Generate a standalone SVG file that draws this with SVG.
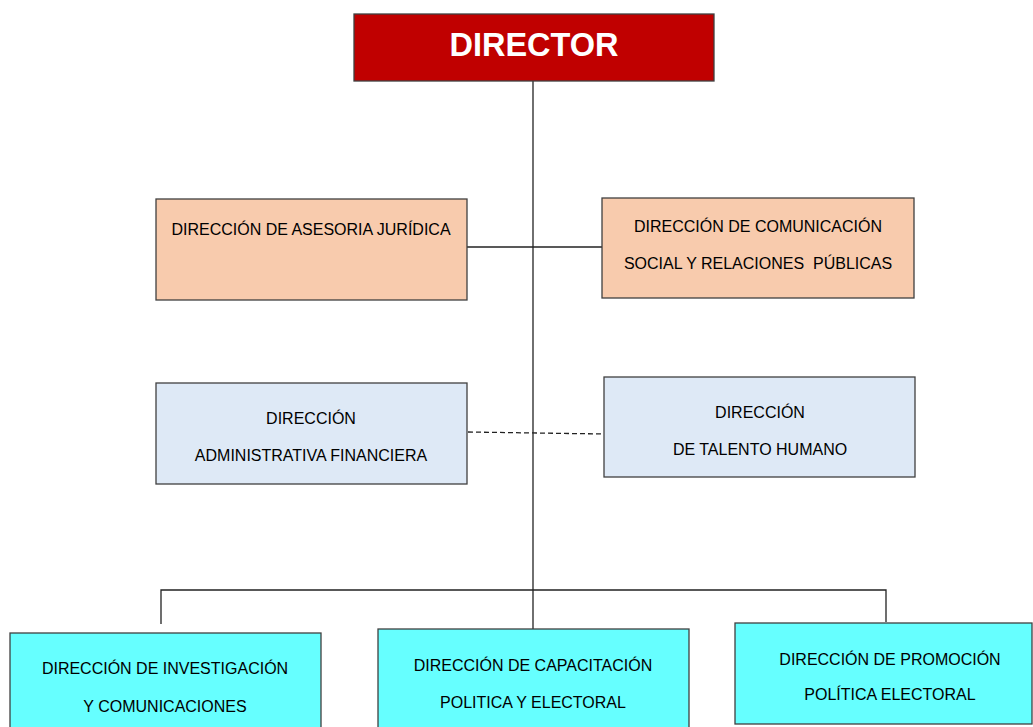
<svg xmlns="http://www.w3.org/2000/svg" width="1033" height="727" viewBox="0 0 1033 727">
<style>
.box{stroke:#404040;stroke-width:1.3}
.dir{fill:#C00000}
.peach{fill:#F8CBAD}
.blue{fill:#DEE9F6}
.cyan{fill:#66FFFF}
.t{font-family:"Liberation Sans",Arial,sans-serif;font-size:16px;fill:#000;text-anchor:middle}
.ln{stroke:#222;stroke-width:1.3;fill:none}
</style>
<rect width="1033" height="727" fill="#fff"/>
<g id="connectors">
<line class="ln" x1="533" y1="81" x2="533" y2="629"/>
<line class="ln" x1="467" y1="247" x2="602" y2="247"/>
<line class="ln" x1="468" y1="432" x2="604" y2="434" stroke-dasharray="5,3"/>
<polyline class="ln" points="161,624 161,590 886,590 886,622"/>
</g>
<g id="director">
<rect class="box dir" x="354" y="14" width="360" height="67"/>
<text x="534" y="56" font-family="Liberation Sans,Arial,sans-serif" font-weight="bold" font-size="32.5" fill="#fff" text-anchor="middle">DIRECTOR</text>
</g>
<g id="juridica">
<rect class="box peach" x="156" y="199" width="311" height="101"/>
<text class="t" x="311" y="235">DIRECCIÓN DE ASESORIA JURÍDICA</text>
</g>
<g id="comunicacion">
<rect class="box peach" x="602" y="198" width="312" height="100"/>
<text class="t" x="758" y="232">DIRECCIÓN DE COMUNICACIÓN</text>
<text class="t" x="758" y="269" xml:space="preserve">SOCIAL Y RELACIONES  PÚBLICAS</text>
</g>
<g id="administrativa">
<rect class="box blue" x="156" y="383" width="311" height="101"/>
<text class="t" x="311" y="424">DIRECCIÓN</text>
<text class="t" x="311" y="461">ADMINISTRATIVA FINANCIERA</text>
</g>
<g id="talento">
<rect class="box blue" x="604" y="377" width="311" height="100"/>
<text class="t" x="760" y="418">DIRECCIÓN</text>
<text class="t" x="760" y="455">DE TALENTO HUMANO</text>
</g>
<g id="investigacion">
<rect class="box cyan" x="10" y="633" width="311" height="100"/>
<text class="t" x="165" y="674">DIRECCIÓN DE INVESTIGACIÓN</text>
<text class="t" x="165" y="712">Y COMUNICACIONES</text>
</g>
<g id="capacitacion">
<rect class="box cyan" x="378" y="629" width="311" height="104"/>
<text class="t" x="533" y="671">DIRECCIÓN DE CAPACITACIÓN</text>
<text class="t" x="533" y="708">POLITICA Y ELECTORAL</text>
</g>
<g id="promocion">
<rect class="box cyan" x="735" y="623" width="297" height="101"/>
<text class="t" x="890" y="665">DIRECCIÓN DE PROMOCIÓN</text>
<text class="t" x="890" y="700">POLÍTICA ELECTORAL</text>
</g>
</svg>
